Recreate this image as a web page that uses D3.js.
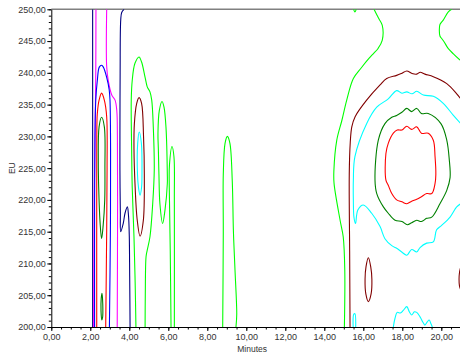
<!DOCTYPE html>
<html>
<head>
<meta charset="utf-8">
<script src="https://cdn.jsdelivr.net/npm/d3@7"></script>
<style>
  html, body { margin: 0; padding: 0; background: #fff; }
  svg { display: block; font-family: "Liberation Sans", Arial, sans-serif; }
</style>
</head>
<body>
<svg id="chart" width="460" height="358"></svg>
<script>
// axis ticks
const xMajor = [0, 2, 4, 6, 8, 10, 12, 14, 16, 18, 20];
const xMinor = d3.range(0, 21.01, 0.5);
const yMajor = [200, 205, 210, 215, 220, 225, 230, 235, 240, 245, 250];
const yMinor = d3.range(200, 250.01, 1);

// contour lines, [minutes, EU]
const navyLeft = [[2.12, 250], [2.12, 230], [2.12, 200]];
const navyRight = [[3.73, 250], [3.61, 249.5], [3.56, 248.3], [3.53, 240], [3.52, 230], [3.52, 224.7],
  [3.54, 218], [3.56, 215.0], [3.69, 216.3], [3.78, 217.9], [3.9, 218.9], [3.96, 217.5], [4.0, 214.2],
  [4.02, 208], [4.04, 200]];
const magentaLeft = [[2.29, 250], [2.28, 240], [2.25, 232], [2.2, 220], [2.17, 200]];
const magentaRight = [[2.84, 250], [2.84, 241], [2.92, 238.8], [3.10, 236.5], [3.27, 235.7], [3.36, 234],
  [3.39, 230], [3.40, 220], [3.38, 200]];
const blueLine = [[2.22, 200], [2.22, 220], [2.24, 230], [2.28, 235.7], [2.36, 238.8], [2.46, 240.9],
  [2.58, 241.2], [2.67, 240.9], [2.84, 239.3], [2.97, 237.3], [3.01, 235.7], [3.04, 228], [3.03, 215],
  [2.98, 200]];
const redLeft = [[2.33, 200], [2.33, 225], [2.34, 232], [2.36, 233.6], [2.45, 235.7], [2.58, 236.8],
  [2.72, 235.7], [2.84, 233.1], [2.86, 225], [2.84, 215], [2.79, 200]];
const darkGreenLeft = [[2.58, 233.0], [2.72, 231.5], [2.75, 225], [2.74, 220], [2.66, 216], [2.58, 213.9],
  [2.5, 216.5], [2.43, 222], [2.41, 226], [2.45, 231.5]];
const darkGreenSmall = [[2.6, 205.3], [2.64, 203.5], [2.63, 201.5], [2.59, 201.1], [2.55, 202.5], [2.56, 204.5]];

const lime45 = [[4.34, 200], [4.3, 207], [4.24, 214.2], [4.15, 222], [4.12, 228], [4.10, 235.7],
  [4.15, 238.8], [4.29, 241.5], [4.50, 242.5], [4.63, 241.7], [4.81, 239.3], [4.92, 237.8], [5.06, 237.0],
  [5.15, 235.7], [5.23, 231.5], [5.28, 224.7], [5.2, 219.4], [5.06, 214.2], [4.92, 212.1], [4.86, 211.1],
  [4.82, 205], [4.81, 200]];
const maroon45 = [[4.50, 236.1], [4.63, 235.2], [4.73, 230], [4.77, 224], [4.72, 216.8], [4.55, 214.3],
  [4.4, 217], [4.3, 222], [4.24, 228], [4.26, 232], [4.38, 235.2]];
const cyan45 = [[4.51, 230.7], [4.62, 228.9], [4.65, 224], [4.63, 222], [4.55, 220.75], [4.47, 222],
  [4.42, 224], [4.43, 228.9]];
const lime6a = [[5.68, 235.5], [5.78, 234.6], [5.88, 231.5], [5.95, 224], [5.95, 222.6], [5.83, 218.4],
  [5.71, 216.3], [5.57, 219.4], [5.52, 224], [5.49, 228], [5.47, 230.5], [5.54, 234.1]];
const lime6b = [[6.14, 200], [6.1, 212], [6.05, 222], [6.06, 225.5], [6.19, 228.4], [6.29, 226.8],
  [6.31, 220], [6.31, 200]];
const lime9 = [[8.79, 200], [8.82, 215], [8.82, 224], [8.91, 228.9], [9.03, 230.0], [9.16, 228.9],
  [9.28, 223], [9.34, 215], [9.42, 209], [9.51, 202], [9.47, 200]];

const limeRightA = [[16.55, 250], [16.8, 248.5], [16.97, 247.5], [16.97, 245.1], [16.75, 243.8],
  [16.51, 243.0], [16.3, 242.3], [15.9, 240.8], [15.49, 239.1], [15.15, 235.7], [14.9, 232.5],
  [14.64, 229.4], [14.49, 224.5], [14.5, 222.6], [14.81, 216.8], [14.97, 214.2], [15.05, 209], [15.03, 200]];
const limeTopSmall = [[15.5, 250], [15.57, 249.6], [15.64, 250]];
const limeRightB = [[20.53, 250], [20.36, 249.6], [20.1, 248.3], [19.93, 247.6], [19.9, 246.6],
  [19.93, 245.8], [20.02, 245.4], [20.14, 244.9], [20.36, 243.8], [20.62, 243.0], [20.96, 242.0]];
const maroonBig = [[15.32, 200], [15.3, 212], [15.28, 224], [15.33, 229], [15.41, 231.5], [15.58, 233.1],
  [16.17, 235.7], [16.86, 238.1], [17.2, 239.1], [17.71, 239.6], [17.95, 239.9], [18.23, 240.3],
  [18.5, 239.9], [18.74, 239.8], [18.92, 240.1], [19.16, 239.8], [19.59, 239.4], [20.28, 238.3],
  [20.79, 236.7], [21, 235.9]];
const maroonSmall = [[16.26, 210.9], [16.38, 209.5], [16.44, 207.5], [16.4, 205.2], [16.26, 204.0],
  [16.13, 205.2], [16.09, 207.5], [16.14, 209.5]];
const maroonEdge = [[21, 209.5], [20.93, 208.5], [20.91, 207.5], [20.93, 206.5], [21, 205.8]];
const cyanBig = [[21, 232.0], [20.62, 233.3], [20.1, 235.2], [19.59, 236.3], [19.08, 236.5],
  [18.74, 237.1], [18.5, 236.7], [18.23, 237.0], [17.98, 236.8], [17.71, 237.2], [17.28, 235.9],
  [16.69, 234.6], [16.17, 232.0], [15.57, 226.8], [15.49, 223.1], [15.49, 220], [15.52, 217.3],
  [15.6, 216.3], [15.72, 218.4], [16.0, 219.2], [16.43, 217.9], [16.86, 215.8], [17.11, 213.9],
  [17.46, 212.8], [17.71, 212.4], [17.97, 211.8], [18.23, 211.3], [18.48, 212.2], [18.74, 211.8],
  [18.91, 212.5], [19.25, 213.2], [19.59, 213.4], [19.76, 215.3], [20.02, 216.0], [20.45, 217.3],
  [20.79, 218.9], [21, 219.4]];
const cyanBottomA = [[15.48, 200], [15.51, 202.0], [15.57, 202.1], [15.61, 200]];
const cyanBottomB = [[17.54, 200], [17.62, 201.3], [17.74, 202.3], [17.9, 202.2], [18.05, 202.6],
  [18.23, 203.2], [18.36, 202.4], [18.48, 201.9], [18.62, 202.4], [18.74, 202.3], [18.91, 201.6],
  [19.05, 200.8], [19.16, 200.3], [19.28, 200.8], [19.38, 201.1], [19.47, 200.5], [19.54, 200]];
const darkGreenBig = [[16.6, 223.1], [16.77, 229.4], [17.11, 232.0], [17.46, 233.0], [17.71, 233.3],
  [17.98, 233.8], [18.23, 234.4], [18.48, 233.9], [18.74, 234.4], [18.98, 233.6], [19.33, 233.6],
  [19.98, 232.0], [20.28, 229.4], [20.41, 226.3], [20.45, 223.5], [20.28, 221.5], [19.93, 219.4],
  [19.51, 217.3], [19.25, 217.1], [18.98, 216.6], [18.74, 216.8], [18.48, 216.4], [18.26, 216.1],
  [17.98, 216.6], [17.63, 216.8], [17.28, 217.9], [17.03, 218.9], [16.69, 221.0]];
const redBig = [[17.16, 223.1], [17.16, 227.3], [17.28, 228.9], [17.54, 230.5], [17.74, 231.0],
  [17.98, 231.0], [18.23, 231.6], [18.48, 231.1], [18.74, 231.5], [18.98, 230.5], [19.33, 230.5],
  [19.59, 229.4], [19.68, 226.8], [19.72, 224], [19.68, 222.6], [19.51, 221.0], [19.25, 221.0],
  [18.98, 220.5], [18.74, 220.1], [18.48, 219.8], [18.23, 219.4], [17.98, 219.7], [17.71, 220.0],
  [17.46, 221.0], [17.28, 222.3]];

const levelColor = {
  lime: "#00ff00", maroon: "#800000", cyan: "#00ffff", darkgreen: "#008000",
  red: "#ff0000", blue: "#0000ff", navy: "#000080", magenta: "#ff00ff"
};

const contours = [
  { pts: navyLeft, level: "navy" }, { pts: navyRight, level: "navy" },
  { pts: magentaLeft, level: "magenta" }, { pts: magentaRight, level: "magenta" },
  { pts: blueLine, level: "blue" }, { pts: redLeft, level: "red" },
  { pts: darkGreenLeft, level: "darkgreen", closed: true },
  { pts: darkGreenSmall, level: "darkgreen", closed: true },
  { pts: lime45, level: "lime" }, { pts: maroon45, level: "maroon", closed: true },
  { pts: cyan45, level: "cyan", closed: true },
  { pts: lime6a, level: "lime", closed: true }, { pts: lime6b, level: "lime" },
  { pts: lime9, level: "lime" },
  { pts: limeRightA, level: "lime" }, { pts: limeTopSmall, level: "lime" },
  { pts: limeRightB, level: "lime" },
  { pts: maroonBig, level: "maroon" }, { pts: maroonSmall, level: "maroon", closed: true },
  { pts: maroonEdge, level: "maroon" },
  { pts: cyanBig, level: "cyan" }, { pts: cyanBottomA, level: "cyan" }, { pts: cyanBottomB, level: "cyan" },
  { pts: darkGreenBig, level: "darkgreen", closed: true },
  { pts: redBig, level: "red", closed: true }
];

const svg = d3.select("#chart");
const margin = { left: 51.3, right: 0, top: 9.3, bottom: 31 };
const width = 460, height = 358;

const x = d3.scaleLinear().domain([0, 21]).range([margin.left, margin.left + 21 * 19.5]);
const y = d3.scaleLinear().domain([200, 250]).range([height - margin.bottom, margin.top]);

const fmt = (d) => d3.format(".2f")(d).replace(".", ",");

svg.append("defs").append("clipPath").attr("id", "plot-clip")
  .append("rect")
  .attr("x", margin.left).attr("y", margin.top)
  .attr("width", width - margin.left).attr("height", y(200) - margin.top);

// top frame line
svg.append("line")
  .attr("x1", margin.left).attr("x2", width)
  .attr("y1", margin.top).attr("y2", margin.top)
  .attr("stroke", "#808080").attr("stroke-width", 1.6);

const lineOpen = d3.line().x((d) => x(d[0])).y((d) => y(d[1])).curve(d3.curveCatmullRom.alpha(0.5));
const lineClosed = d3.line().x((d) => x(d[0])).y((d) => y(d[1])).curve(d3.curveCatmullRomClosed.alpha(0.5));

svg.append("g")
  .attr("clip-path", "url(#plot-clip)")
  .selectAll("path")
  .data(contours)
  .join("path")
  .attr("d", (d) => (d.closed ? lineClosed : lineOpen)(d.pts))
  .attr("fill", "none")
  .attr("stroke", (d) => levelColor[d.level])
  .attr("stroke-width", 1.1);

// y axis
svg.append("g")
  .attr("transform", `translate(${ margin.left },0)`)
  .call(d3.axisLeft(y).tickValues(yMinor).tickSize(2.5).tickFormat(""))
  .call((g) => g.select(".domain").remove());

svg.append("g")
  .attr("transform", `translate(${ margin.left },0)`)
  .call(d3.axisLeft(y).tickValues(yMajor).tickSize(4).tickSizeOuter(0).tickPadding(1.5).tickFormat(fmt))
  .call((g) => g.select(".domain").attr("stroke", "#000"))
  .call((g) => g.selectAll("text").attr("font-size", 9).attr("fill", "#333")
    .style("font-family", "'Liberation Sans', Arial, sans-serif"));

// x axis
svg.append("g")
  .attr("transform", `translate(0,${ y(200) })`)
  .call(d3.axisBottom(x).tickValues(xMinor).tickSize(2.5).tickFormat(""))
  .call((g) => g.select(".domain").remove());

svg.append("g")
  .attr("transform", `translate(0,${ y(200) })`)
  .call(d3.axisBottom(x).tickValues(xMajor).tickSize(4).tickSizeOuter(0).tickPadding(2.5).tickFormat(fmt))
  .call((g) => g.select(".domain").attr("stroke", "#000").attr("d", `M${ margin.left },0.5H${ width }`))
  .call((g) => g.selectAll("text").attr("font-size", 9).attr("fill", "#333")
    .style("font-family", "'Liberation Sans', Arial, sans-serif"));

svg.append("text")
  .attr("transform", `translate(15,${ (margin.top + y(200)) / 2 }) rotate(-90)`)
  .attr("text-anchor", "middle")
  .attr("font-size", 8.5)
  .attr("fill", "#333")
  .text("EU");

svg.append("text")
  .attr("x", x(10.3))
  .attr("y", 352)
  .attr("text-anchor", "middle")
  .attr("font-size", 8.5)
  .attr("fill", "#333")
  .text("Minutes");
</script>
</body>
</html>
